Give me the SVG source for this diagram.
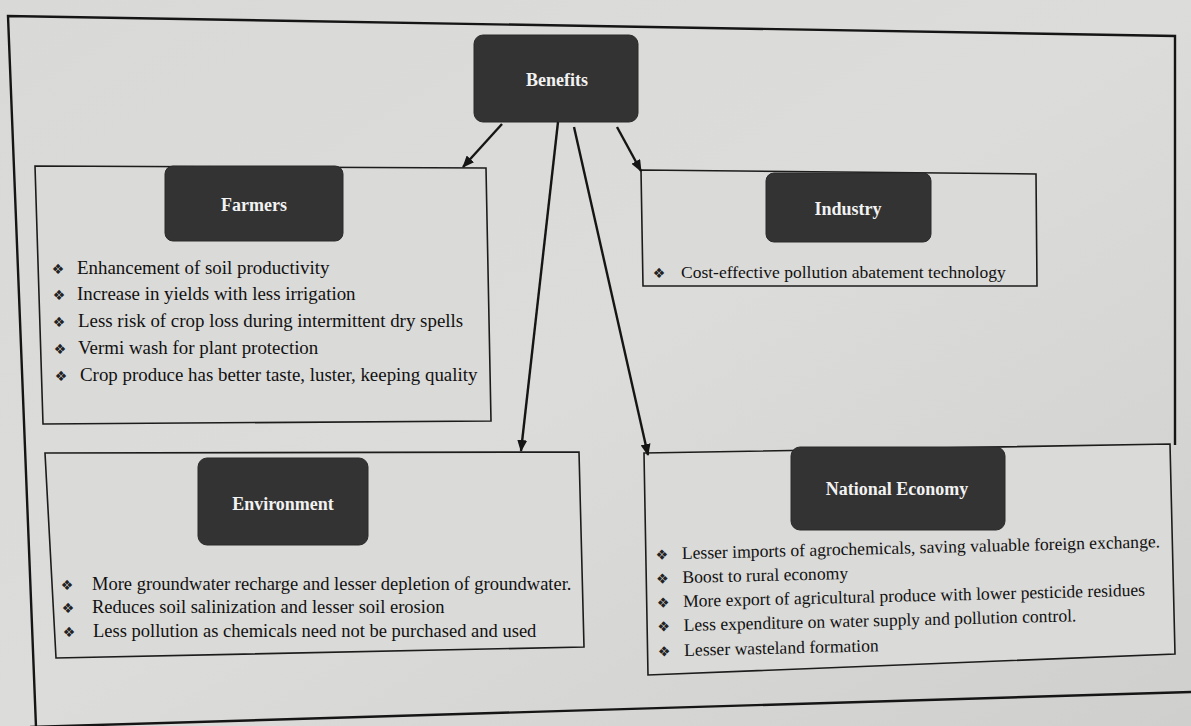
<svg xmlns="http://www.w3.org/2000/svg" width="1191" height="726" viewBox="0 0 1191 726">
<defs>
<linearGradient id="bg" x1="0" y1="0" x2="1" y2="1">
<stop offset="0" stop-color="#d9d9d7"/>
<stop offset="0.5" stop-color="#dcdcda"/>
<stop offset="1" stop-color="#cfcfcd"/>
</linearGradient>
<marker id="ah" markerWidth="12" markerHeight="10" refX="11" refY="5" orient="auto" markerUnits="userSpaceOnUse">
<path d="M0,0 L12,5 L0,10 Z" fill="#151515"/>
</marker>
<style>
.box{fill:#dadad8;stroke:#1c1c1c;stroke-width:1.6}
.lab{fill:#333333;stroke:#2a2a2a;stroke-width:1}
.hd{font-family:"Liberation Serif",serif;font-weight:bold;fill:#f2f2f2;text-anchor:middle;font-size:18px}
.tx{font-family:"Liberation Serif",serif;fill:#111111}
.bul{font-family:"DejaVu Sans",sans-serif;fill:#222;font-size:14px;text-anchor:middle}
.con{stroke:#151515;stroke-width:2.4;fill:none}
.frame{stroke:#151515;stroke-width:2.4;fill:none}
</style>
</defs>
<rect x="0" y="0" width="1191" height="726" fill="url(#bg)"/>
<g id="frame">
<path class="frame" d="M36,727 L8,16 L1175,36 L1175,445"/>
<path class="frame" d="M30,727 L1191,692"/>
</g>

<g id="benefits">
<rect class="lab" x="474" y="35" width="164" height="87" rx="9"/>
<text class="hd" x="557" y="86">Benefits</text>
</g>

<g id="farmers">
<polygon class="box" points="35,166 486,168 491,421 43,424"/>
<rect class="lab" x="165" y="166" width="178" height="75" rx="8"/>
<text class="hd" x="254" y="211" font-size="19">Farmers</text>
<g class="tx" font-size="18.9px">
<text x="77" y="274">Enhancement of soil productivity</text>
<text x="77" y="300">Increase in yields with less irrigation</text>
<text x="78" y="327">Less risk of crop loss during intermittent dry spells</text>
<text x="78" y="354">Vermi wash for plant protection</text>
<text x="80" y="381">Crop produce has better taste, luster, keeping quality</text>
</g>
<g class="bul">
<text x="58" y="274">❖</text>
<text x="59" y="300">❖</text>
<text x="59" y="327">❖</text>
<text x="60" y="354">❖</text>
<text x="61" y="381">❖</text>
</g>
</g>

<g id="industry">
<polygon class="box" points="641,170 1036,174 1037,286 643,286"/>
<rect class="lab" x="766" y="173" width="165" height="69" rx="8"/>
<text class="hd" x="848" y="215">Industry</text>
<text class="tx" x="681" y="278" font-size="17.5px">Cost-effective pollution abatement technology</text>
<text class="bul" x="659" y="278">❖</text>
</g>

<g id="environment">
<polygon class="box" points="45,453 579,452 584,647 56,658"/>
<rect class="lab" x="198" y="458" width="170" height="87" rx="9"/>
<text class="hd" x="283" y="510" font-size="19">Environment</text>
<g class="tx" font-size="18.5px">
<text x="92" y="590">More groundwater recharge and lesser depletion of groundwater.</text>
<text x="92" y="613">Reduces soil salinization and lesser soil erosion</text>
<text x="93" y="637">Less pollution as chemicals need not be purchased and used</text>
</g>
<g class="bul">
<text x="67" y="590">❖</text>
<text x="68" y="613">❖</text>
<text x="69" y="637">❖</text>
</g>
</g>

<g id="national-economy">
<polygon class="box" points="644,453 1170,444 1175,654 648,675"/>
<rect class="lab" x="791" y="447" width="214" height="83" rx="9"/>
<text class="hd" x="897" y="495" font-size="17">National Economy</text>
<g transform="rotate(-1.4 682 559)">
<g class="tx" font-size="17.6px">
<text x="682" y="559">Lesser imports of agrochemicals, saving valuable foreign exchange.</text>
<text x="682" y="583">Boost to rural economy</text>
<text x="682" y="607">More export of agricultural produce with lower pesticide residues</text>
<text x="682" y="631">Less expenditure on water supply and pollution control.</text>
<text x="682" y="656">Lesser wasteland formation</text>
</g>
<g class="bul">
<text x="662" y="559">❖</text>
<text x="662" y="583">❖</text>
<text x="662" y="607">❖</text>
<text x="662" y="631">❖</text>
<text x="662" y="656">❖</text>
</g>
</g>
</g>

<g id="connectors">
<line class="con" x1="502" y1="124" x2="463" y2="167" marker-end="url(#ah)"/>
<line class="con" x1="558" y1="122" x2="521" y2="451" marker-end="url(#ah)"/>
<line class="con" x1="574" y1="127" x2="648" y2="455" marker-end="url(#ah)"/>
<line class="con" x1="617" y1="127" x2="641" y2="171" marker-end="url(#ah)"/>
</g>
</svg>
